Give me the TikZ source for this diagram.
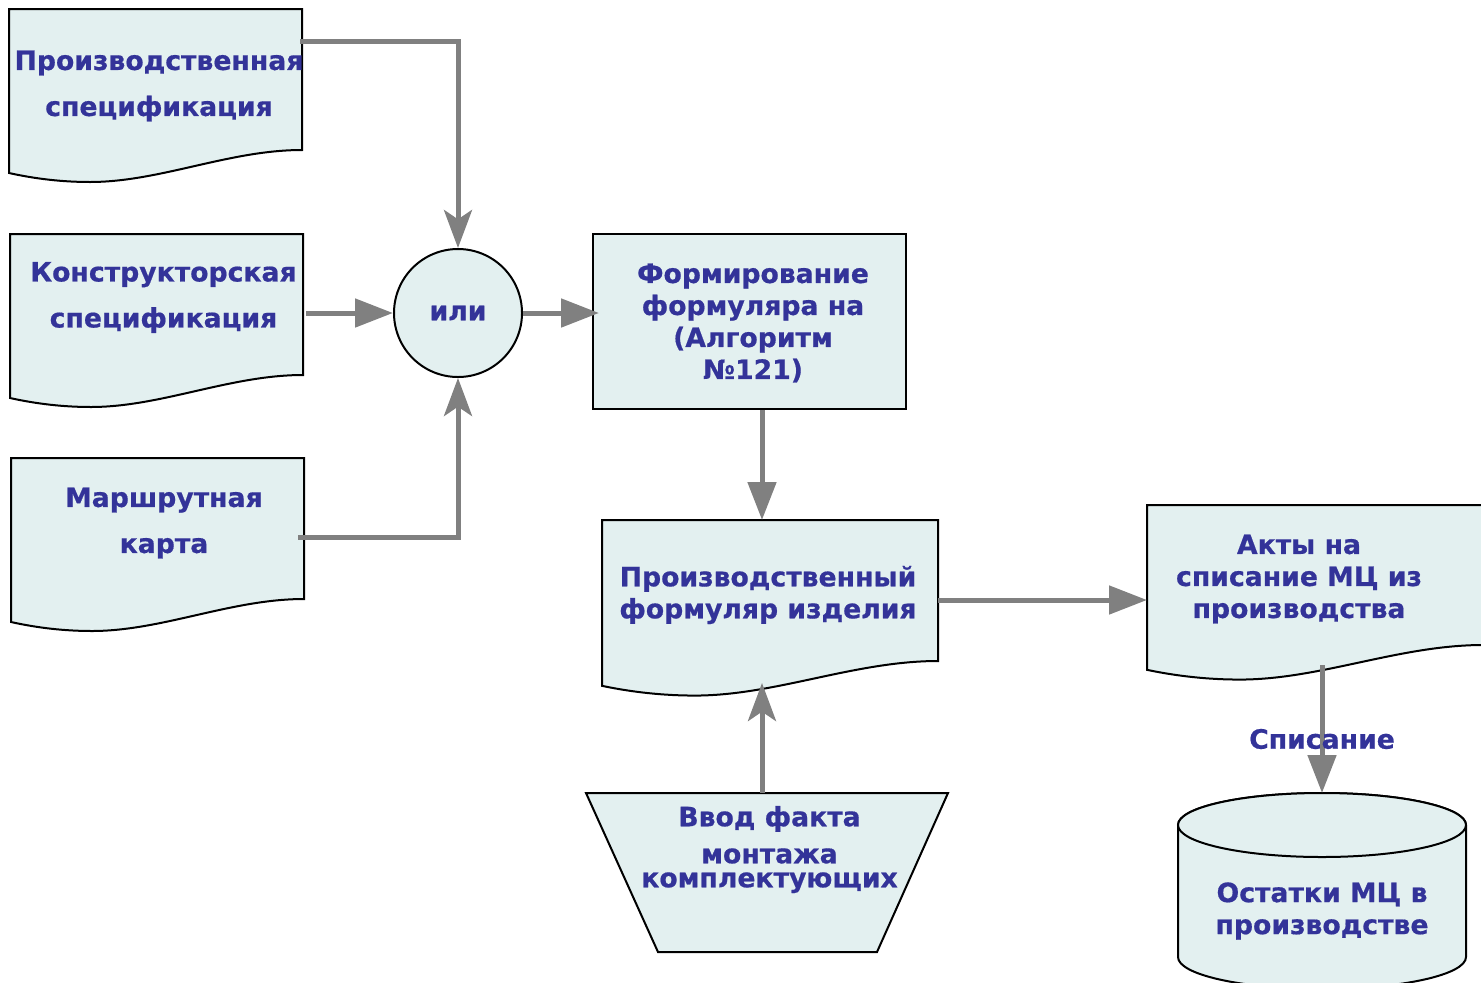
\documentclass[tikz,border=0pt]{standalone}
\usepackage{fontspec}
\setmainfont{DejaVu Sans}[BoldFeatures={FakeBold=0.6}]
\usetikzlibrary{arrows.meta,calc}
\definecolor{txtblue}{HTML}{333399}
\definecolor{boxfill}{HTML}{E3F0F0}
\definecolor{conngray}{HTML}{808080}
\newcommand\docpath[3]{%
 \path[outline] (#1.north west) -- (#1.north east) -- (#1.south east)
   .. controls ($(#1.south west)+(220*#2,0)$) and ($(#1.south west)+(151*#2,32*#3)$) .. ($(#1.south west)+(81*#2,32*#3)$)
   .. controls ($(#1.south west)+(54*#2,32*#3)$) and ($(#1.south west)+(27*#2,29*#3)$) .. ($(#1.south west)+(0,23*#3)$) -- cycle;}
\begin{document}
\begin{tikzpicture}[x=0.75pt,y=-0.75pt,
  frame/.style={draw=none, inner sep=0pt, outer sep=0pt, rectangle},
  outline/.style={draw=black, line width=1.5pt, fill=boxfill, line join=miter},
  lbl/.style={text=txtblue, font=\bfseries\fontsize{20pt}{24pt}\selectfont, align=center, inner sep=0pt},
  lblwide/.style={lbl, font=\bfseries\fontsize{20pt}{34.5pt}\selectfont},
  conn/.style={draw=conngray, line width=3.75pt, -{Triangle[length=28.5pt,width=21pt]}},
  connn/.style={conn, -{Stealth[length=28.5pt,width=21pt,inset=7pt]}}]
\useasboundingbox (0,0) rectangle (1481,982);
% frames
\node[frame, minimum width=293*0.75pt, minimum height=141*0.75pt] (d1) at (155.5,79.5) {};
\node[frame, minimum width=293*0.75pt, minimum height=141*0.75pt] (d2) at (156.5,304.5) {};
\node[frame, minimum width=293*0.75pt, minimum height=141*0.75pt] (d3) at (157.5,528.5) {};
\node[frame, minimum width=336*0.75pt, minimum height=141*0.75pt] (pf) at (770,590.5) {};
\node[frame, minimum width=336*0.75pt, minimum height=140*0.75pt] (ak) at (1315,575) {};
\node[frame, minimum width=362*0.75pt, minimum height=159*0.75pt] (tr) at (767,872.5) {};
\node[frame, minimum width=288*0.75pt, minimum height=196*0.75pt] (cyl) at (1322,891) {};
% shapes
\docpath{d1}{1}{1}
\docpath{d2}{1}{1}
\docpath{d3}{1}{1}
\docpath{pf}{1.147}{1.08}
\docpath{ak}{1.147}{1.08}
\path[outline] (tr.north west) -- (tr.north east) -- ($(tr.south east)+(-71,0)$) -- ($(tr.south west)+(72,0)$) -- cycle;
\path[outline] (1178,825) -- (1178,957) arc[start angle=180, end angle=0, x radius=144, y radius=32]
  -- (1466,825) arc[start angle=0, end angle=-180, x radius=144, y radius=32] -- cycle;
\path[outline] (1322,825) ellipse[x radius=144, y radius=32];
\node[outline, circle, minimum size=128*0.75pt, inner sep=0pt, text=txtblue, font=\bfseries\fontsize{20pt}{24pt}\selectfont] (or) at (458,313) {или};
\node[outline, rectangle, minimum width=313*0.75pt, minimum height=175*0.75pt, inner sep=0pt] (fm) at (749.5,321.5) {};
% helper coordinates
\coordinate (c1) at (300,41);
\coordinate (c3) at (298,537);
\coordinate (ax) at (762,0);
\coordinate (pfb) at (762,683);
\coordinate (c7) at (938,600);
\coordinate (akb) at (1322,665);
% connectors
\draw[connn] (c1) -- (or |- c1) -- (or.north);
\draw[conn] ($(d2.east |- or.west)+(3,0)$) -- (or.west);
\draw[connn] (c3) -- (or |- c3) -- (or.south);
\draw[conn] (or.east) -- ($(fm.west |- or.east)+(7,0)$);
\draw[conn] (fm.south -| ax) -- (pf.north -| ax);
\draw[connn] (tr.north -| ax) -- (pfb);
\draw[conn] (c7) -- (ak.west |- c7);
\draw[conn] (akb) -- (cyl.north);
% texts
\node[lblwide] (t1) at (159,86) {Производственная\\спецификация};
\node[lblwide] (t2) at (163.5,297.5) {Конструкторская\\спецификация};
\node[lblwide] (t3) at (164,523) {Маршрутная\\карта};
\node[lbl] (tfm) at (753,323) {Формирование\\формуляра на\\(Алгоритм\\№121)};
\node[lbl] (tpf) at (768,595) {Производственный\\формуляр изделия};
\node[lbl] (tak) at (1299,579) {Акты на\\списание МЦ из\\производства};
\node[lbl] (ttr) at (769.5,849.5) {Ввод факта\\[3.75pt]монтажа\\[-6pt]комплектующих};
\node[lbl] (tcyl) at (1322,911) {Остатки МЦ в\\производстве};
\node[lbl] (tsp) at (1322,739) {Списание};
\end{tikzpicture}
\end{document}
